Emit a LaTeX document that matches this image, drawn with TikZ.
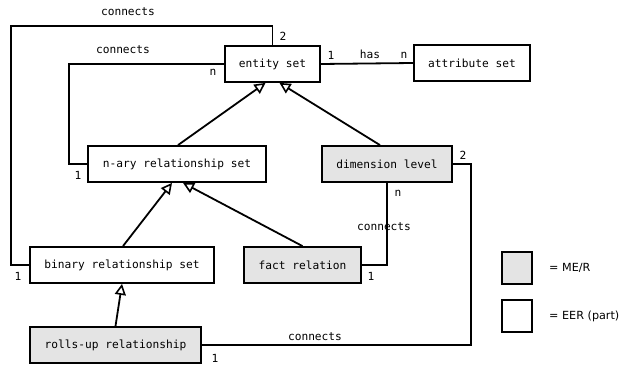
\documentclass[tikz,border=0pt]{standalone}
\usepackage{fontspec}
\setmainfont{DejaVu Sans}
\setmonofont{DejaVu Sans Mono}
\usetikzlibrary{arrows.meta}
\definecolor{mergray}{RGB}{228,228,228}
\begin{document}
\begin{tikzpicture}[x=1pt,y=-1pt,
  box/.style={draw=black,line width=1.8pt,fill=white,inner sep=0pt,minimum height=36pt,font=\ttfamily\fontsize{11.2}{13}\selectfont},
  merbox/.style={box,fill=mergray},
  conn/.style={line width=1.8pt},
  gen/.style={line width=1.8pt,-{Triangle[open,length=11pt,width=11pt,line width=1.6pt]}},
  lbl/.style={font=\ttfamily\fontsize{11.2}{13}\selectfont,inner sep=0pt},
  legend/.style={font=\fontsize{11.2}{13}\selectfont,inner sep=0pt,anchor=west}]
\useasboundingbox (0,0) rectangle (622,366);

% entity types and relationships
\node[box,minimum width=95pt] (ent) at (272.5,64) {entity set};
\node[box,minimum width=116pt] (att) at (472,63) {attribute set};
\node[box,minimum width=178pt] (nary) at (177,164) {n-ary relationship set};
\node[merbox,minimum width=130pt] (dim) at (387,164) {dimension level};
\node[box,minimum width=184pt] (bin) at (122,265) {binary relationship set};
\node[merbox,minimum width=117pt] (fact) at (302.5,265) {fact relation};
\node[merbox,minimum width=171pt] (roll) at (115.5,345) {rolls-up relationship};

% legend
\node[merbox,minimum width=30pt,minimum height=32pt] (legmer) at (517,268) {};
\node[box,minimum width=30pt,minimum height=32pt] (legeer) at (517,316) {};
\node[legend] (legmert) at (549,268) {= ME/R};
\node[legend] (legeert) at (549,316) {= EER (part)};

% associations
\draw[conn] (bin.west) -| (11,26) -| (ent.north);
\node[lbl] (c1) at (128,12) {connects};
\node[lbl] (c1a) at (283,36) {2};
\node[lbl] (c1b) at (18,276) {1};

\draw[conn] (nary.west) -| (69,64) -- (ent.west);
\node[lbl] (c2) at (123,50) {connects};
\node[lbl] (c2a) at (213,72) {n};
\node[lbl] (c2b) at (78,175) {1};

\draw[conn] (ent.east) -- (att.west);
\node[lbl] (h1) at (331,55) {1};
\node[lbl] (h2) at (370,54) {has};
\node[lbl] (h3) at (404,55) {n};

\draw[conn] (fact.east) -| (dim.south);
\node[lbl] (c3) at (384,227) {connects};
\node[lbl] (c3a) at (398,193) {n};
\node[lbl] (c3b) at (371,276) {1};

\draw[conn] (roll.east) -| (471,164) -- (dim.east);
\node[lbl] (c4) at (315,337) {connects};
\node[lbl] (c4a) at (463,155) {2};
\node[lbl] (c4b) at (215,358) {1};

% generalisations
\draw[gen] ([xshift=1pt]nary.north) -- ([xshift=-7pt]ent.south);
\draw[gen] ([xshift=-7pt]dim.north) -- ([xshift=7pt]ent.south);
\draw[gen] ([xshift=1pt]bin.north) -- ([xshift=-5pt]nary.south);
\draw[gen] (fact.north) -- ([xshift=6pt]nary.south);
\draw[gen] (roll.north) -- (bin.south);
\end{tikzpicture}
\end{document}
